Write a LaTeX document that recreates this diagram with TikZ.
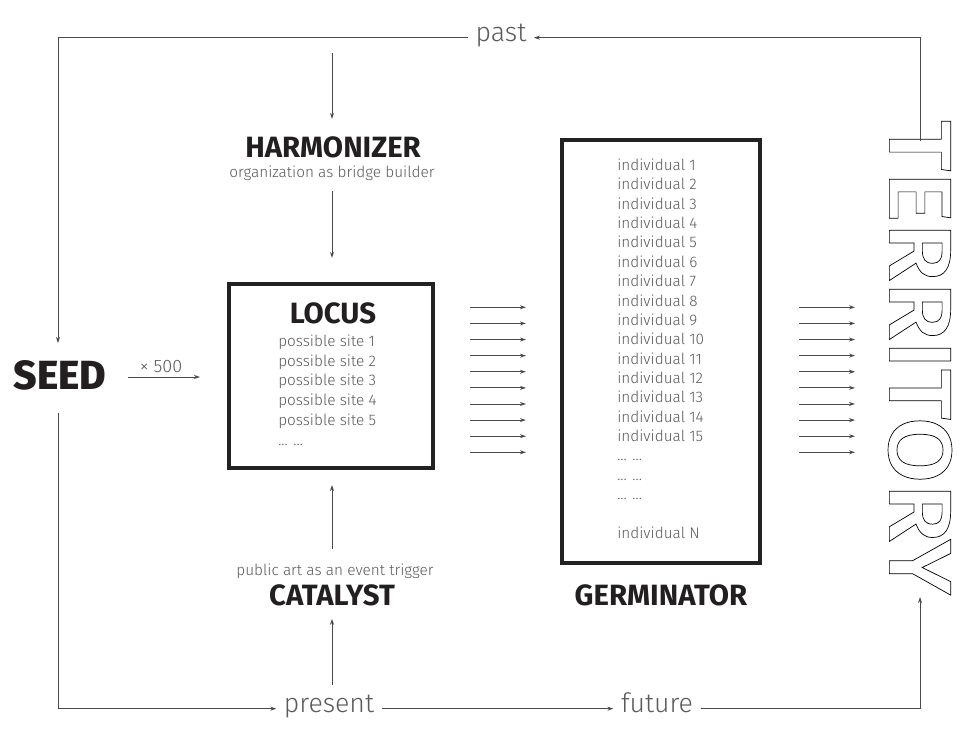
\documentclass[tikz,border=0pt]{standalone}
\usepackage{fontspec}
\usetikzlibrary{arrows.meta,calc}
\setmainfont{Fira Sans}
\newfontfamily\lightf{Fira Sans Light}
\newfontfamily\boldf{Fira Sans Bold}
\newfontfamily\medf{Fira Sans Medium}
\newfontfamily\xbf{Fira Sans ExtraBold}
\definecolor{lc}{HTML}{4A4A4A}
\definecolor{bc}{HTML}{222222}
\definecolor{tc}{HTML}{231F20}
\definecolor{sc}{HTML}{5A5A5A}
\tikzset{
  ln/.style={draw=lc, line width=0.7pt},
  arr/.style={ln, -{Stealth[length=4.5pt,width=3pt]}},
  boxst/.style={draw=bc, line width=2.3pt, inner sep=0pt},
  title/.style={font=\boldf\fontsize{22}{26}\selectfont, text=tc, inner sep=0pt},
  small/.style={font=\lightf\fontsize{11.5}{14}\selectfont, text=sc, inner sep=0pt},
  timest/.style={font=\lightf\fontsize{20}{24}\selectfont, text=sc, text height=0.75em, text depth=0.25em, inner ysep=0pt, inner xsep=5.5pt},
  seedst/.style={font=\xbf\fontsize{30.5}{34}\selectfont, text=tc, inner sep=0pt}
}
\begin{document}
\begin{tikzpicture}[x=0.75pt,y=-0.75pt]
\fill[white] (0,0) rectangle (960,744);
\useasboundingbox (0,0) rectangle (960,744);

% time labels
\node[timest, anchor=base] (past) at (501,41) {past};
\node[timest, anchor=base] (present) at (329,712) {present};
\node[timest, anchor=base] (future) at (657,712) {future};

% harmonizer
\node[title, anchor=base] (harm) at (333,157) {HARMONIZER};
\node[small, anchor=base] (org) at (332,177) {organization as bridge builder};

% locus
\node[boxst, minimum width=153pt, minimum height=138pt] (locus) at (331,376) {};
\node[title, anchor=base] (locustitle) at (333,323) {LOCUS};
\foreach \i/\b in {1/346.7,2/366.3,3/385.9,4/405.5,5/425.1}
  \node[small, anchor=base west] (site\i) at (278,\b) {possible site \i};
\node[small, anchor=base west] (sitedots) at (278,445) {... ...};

% germinator
\node[boxst, minimum width=148.5pt, minimum height=317.25pt] (germ) at (661,351.5) {};
\foreach \k in {0,...,14}{
  \pgfmathsetmacro\yy{170.5+19.36*\k}
  \pgfmathtruncatemacro\nn{\k+1}
  \node[small, anchor=base west] (ind\nn) at (617,\yy) {individual \nn};
}
\node[small, anchor=base west] (dotsa) at (617,460.9) {... ...};
\node[small, anchor=base west] (dotsb) at (617,480.3) {... ...};
\node[small, anchor=base west] (dotsc) at (617,499.6) {... ...};
\node[small, anchor=base west] (indN) at (617,538.3) {individual N};
\node[title, anchor=base] (germtitle) at (661,605) {GERMINATOR};

% catalyst
\node[small, anchor=base] (pub) at (335,575) {public art as an event trigger};
\node[title, anchor=base] (cat) at (332,605) {CATALYST};

% seed
\node[seedst, anchor=base] (seed) at (60,389) {SEED};
\node[small, font=\lightf\fontsize{13.5}{16}\selectfont, anchor=base] (x500) at (161,372) {× 500};

% territory (outlined letters)
\node[rotate=-90, inner sep=0pt] (terr) at (920,357.5)
  {\resizebox{356pt}{47pt}{\medf\fontsize{40}{40}\selectfont\color{black}\special{pdf:literal direct 1 Tr 0.3 w}TERRITORY\special{pdf:literal direct 0 Tr}}};

% coordinates for free ends
\coordinate (tr) at (920,141);
\coordinate (tb) at (920,597);
\coordinate (seedtop) at (58,343);
\coordinate (seedbot) at (58,413);
\coordinate (htop) at (332,53);
\coordinate (pc) at (332,685);
\coordinate (xa) at (128,377);

% outer loop
\draw[arr] (tr) |- (past.east);
\draw[arr] (past.west) -| (seedtop);
\draw[arr] (seedbot) |- (present.west);
\draw[arr] (present.east) -- (future.west);
\draw[arr] (future.east) -| (tb);

% vertical arrows
\draw[arr, shorten >=12.75pt] (htop) -- (htop |- harm.north);
\draw[arr, shorten <=8.25pt, shorten >=18.4pt] (org.south) -- (org.south |- locus.north);
\draw[arr, shorten <=10.5pt, shorten >=11.6pt] (pub.north -| pc) -- (pc |- locus.south);
\draw[arr, shorten >=9.75pt] (pc) -- (pc |- cat.south);

% x500 arrow
\draw[arr, shorten >=20.6pt] (xa) -- (xa -| locus.west);

% bundles
\foreach \k in {0,...,9}{
  \pgfmathsetmacro\yy{307.3+16.11*\k}
  \coordinate (b\k) at (855,\yy);
  \draw[arr, shorten <=26.6pt, shorten >=25.9pt] (locus.east |- b\k) -- (germ.west |- b\k);
  \draw[arr, shorten <=28.1pt] (germ.east |- b\k) -- (b\k);
}
\end{tikzpicture}
\end{document}
